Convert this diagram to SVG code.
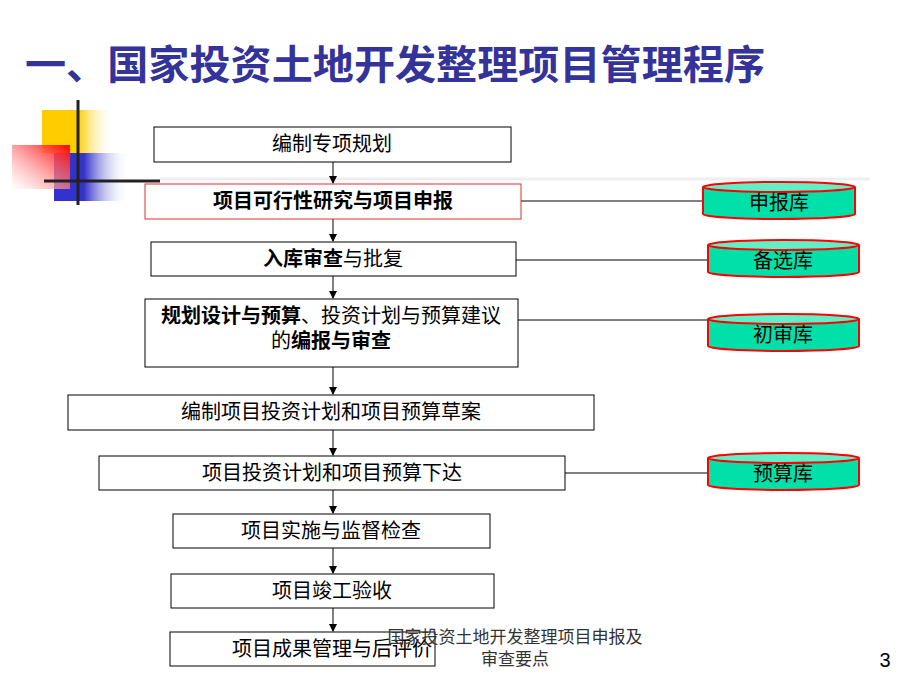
<svg xmlns="http://www.w3.org/2000/svg" width="920" height="690" viewBox="0 0 920 690">
<style>
text{font-family:"Liberation Sans","Noto Sans CJK SC",sans-serif;fill:#000}
.box{fill:#fff;stroke:#000;stroke-width:1}
.t{font-size:20px;text-anchor:middle}
.b{font-weight:bold}
.ln{stroke:#000;stroke-width:1;fill:none}
.cyl{fill:#00e0a8;stroke:#f00;stroke-width:2}
.top{fill:#60f0c8;stroke:#f00;stroke-width:2}
</style>
<defs>
<linearGradient id="gy" x1="0" x2="1"><stop offset="0.5" stop-color="#ffcc00"/><stop offset="1" stop-color="#fff" stop-opacity="0"/></linearGradient>
<linearGradient id="gb" x1="0" x2="1"><stop offset="0.4" stop-color="#3333cc"/><stop offset="1" stop-color="#fff" stop-opacity="0"/></linearGradient>
<linearGradient id="gr" x1="1" y1="0" x2="0" y2="1"><stop offset="0" stop-color="#ff0000"/><stop offset="1" stop-color="#fff" stop-opacity="0.5"/></linearGradient>
<marker id="ar" markerWidth="8" markerHeight="8" refX="7" refY="4" orient="auto" markerUnits="userSpaceOnUse"><path d="M0,0 L8,4 L0,8 z" fill="#000"/></marker>
</defs>
<rect width="920" height="690" fill="#fff"/>
<g id="deco">
<rect x="42" y="110" width="72" height="43" fill="url(#gy)"/>
<rect x="54" y="153" width="75" height="48" fill="url(#gb)"/>
<rect x="12" y="145" width="58" height="44" fill="url(#gr)"/>
<line x1="78" y1="100" x2="78" y2="205" stroke="#222" stroke-width="3"/>
<line x1="44" y1="181" x2="160" y2="181" stroke="#222" stroke-width="3"/>
<line x1="160" y1="179" x2="870" y2="179" stroke="#eee" stroke-width="3"/>
</g>
<text x="25" y="79" textLength="740" lengthAdjust="spacingAndGlyphs" style="font-size:40px;font-weight:bold;fill:#333399">一、国家投资土地开发整理项目管理程序</text>
<g id="connectors">
<line class="ln" x1="333" y1="162" x2="333" y2="183" marker-end="url(#ar)"/>
<line class="ln" x1="333" y1="219" x2="333" y2="241" marker-end="url(#ar)"/>
<line class="ln" x1="333" y1="276" x2="333" y2="298" marker-end="url(#ar)"/>
<line class="ln" x1="333" y1="367" x2="333" y2="394" marker-end="url(#ar)"/>
<line class="ln" x1="333" y1="430" x2="333" y2="455" marker-end="url(#ar)"/>
<line class="ln" x1="333" y1="490" x2="333" y2="513" marker-end="url(#ar)"/>
<line class="ln" x1="333" y1="548" x2="333" y2="573" marker-end="url(#ar)"/>
<line class="ln" x1="333" y1="608" x2="333" y2="631" marker-end="url(#ar)"/>
<line class="ln" x1="521" y1="201" x2="703" y2="201"/>
<line class="ln" x1="516" y1="260" x2="708" y2="260"/>
<line class="ln" x1="518" y1="320" x2="708" y2="320"/>
<line class="ln" x1="565" y1="473" x2="708" y2="473"/>
</g>
<g id="n1"><rect class="box" x="154" y="127" width="357" height="35"/><text class="t" x="332" y="151">编制专项规划</text></g>
<g id="n2"><rect x="145" y="184" width="376" height="35" fill="#fff" stroke="#e03030"/><text class="t b" x="333" y="208">项目可行性研究与项目申报</text></g>
<g id="n3"><rect class="box" x="151" y="242" width="365" height="34"/><text class="t" x="333" y="266"><tspan class="b">入库审查</tspan>与批复</text></g>
<g id="n4"><rect class="box" x="145" y="299" width="373" height="68"/><text class="t" x="331" y="323"><tspan class="b">规划设计与预算</tspan>、投资计划与预算建议</text><text class="t" x="331" y="348">的<tspan class="b">编报与审查</tspan></text></g>
<g id="n5"><rect class="box" x="68" y="395" width="526" height="35"/><text class="t" x="331" y="419">编制项目投资计划和项目预算草案</text></g>
<g id="n6"><rect class="box" x="99" y="456" width="466" height="34"/><text class="t" x="332" y="480">项目投资计划和项目预算下达</text></g>
<g id="n7"><rect class="box" x="173" y="514" width="317" height="34"/><text class="t" x="331" y="538">项目实施与监督检查</text></g>
<g id="n8"><rect class="box" x="171" y="574" width="323" height="34"/><text class="t" x="332" y="598">项目竣工验收</text></g>
<g id="n9"><rect class="box" x="170" y="632" width="265" height="34"/><text class="t" x="332" y="656">项目成果管理与后评价</text></g>
<g id="c1"><path class="cyl" d="M703,187 L703,214 A76,5 0 0 0 855,214 L855,187"/><ellipse class="top" cx="779" cy="187" rx="76" ry="5"/><text class="t" x="779" y="210">申报库</text></g>
<g id="c2"><path class="cyl" d="M708,245 L708,272 A75.5,5 0 0 0 859,272 L859,245"/><ellipse class="top" cx="783.5" cy="245" rx="75.5" ry="5"/><text class="t" x="783" y="268">备选库</text></g>
<g id="c3"><path class="cyl" d="M708,319 L708,346 A75.5,5 0 0 0 859,346 L859,319"/><ellipse class="top" cx="783.5" cy="319" rx="75.5" ry="5"/><text class="t" x="783" y="342">初审库</text></g>
<g id="c4"><path class="cyl" d="M708,458 L708,485 A75.5,5 0 0 0 859,485 L859,458"/><ellipse class="top" cx="783.5" cy="458" rx="75.5" ry="5"/><text class="t" x="783" y="481">预算库</text></g>
<text x="515" y="643" style="font-size:17px;text-anchor:middle;fill:#333">国家投资土地开发整理项目申报及</text>
<text x="515" y="665" style="font-size:17px;text-anchor:middle;fill:#333">审查要点</text>
<text x="885" y="667" style="font-size:20px;text-anchor:middle">3</text>
</svg>
